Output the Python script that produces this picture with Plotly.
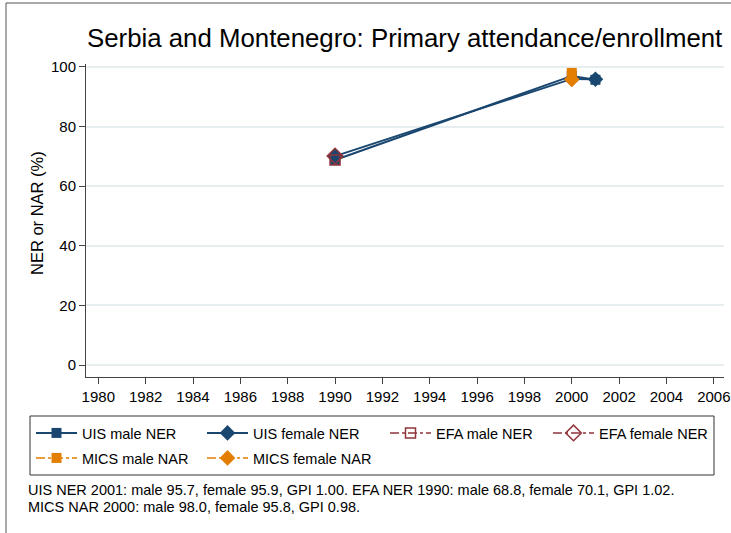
import plotly.graph_objects as go

# ---- data ----
years_uis = [1990, 2000, 2001]
uis_male = [68.8, 97.0, 95.7]
uis_female = [70.1, 96.0, 95.9]
years_efa = [1990]
efa_male = [68.8]
efa_female = [70.1]
years_mics = [2000]
mics_male = [98.0]
mics_female = [95.8]
x_ticks = list(range(1980, 2007, 2))
y_ticks = [0, 20, 40, 60, 80, 100]
title = "Serbia and Montenegro: Primary attendance/enrollment"
ytitle = "NER or NAR (%)"
note1 = "UIS NER 2001: male 95.7, female 95.9, GPI 1.00. EFA NER 1990: male 68.8, female 70.1, GPI 1.02."
note2 = "MICS NAR 2000: male 98.0, female 95.8, GPI 0.98."

NAVY = "#1a476f"
MAROON = "#90353b"
ORANGE = "#e37e00"
FONT = "Liberation Sans, Arial, sans-serif"

W, H = 731, 533
L, R, T, B = 86, 724, 64, 377


def px(x):
    return (x - L) / (R - L)


def py(y):
    return (B - y) / (B - T)


fig = go.Figure()
fig.add_trace(go.Scatter(x=years_uis, y=uis_male, name="UIS male NER", mode="lines+markers",
                         line=dict(color=NAVY, width=2), marker=dict(symbol="square", size=10, color=NAVY),
                         legend="legend"))
fig.add_trace(go.Scatter(x=years_uis, y=uis_female, name="UIS female NER", mode="lines+markers",
                         line=dict(color=NAVY, width=2), marker=dict(symbol="diamond", size=12, color=NAVY),
                         legend="legend2"))
fig.add_trace(go.Scatter(x=years_efa, y=efa_male, name="EFA male NER", mode="lines+markers",
                         line=dict(color=MAROON, width=1.5, dash="dashdot"),
                         marker=dict(symbol="square-open", size=10, color=MAROON, line=dict(width=1.5)),
                         legend="legend3"))
fig.add_trace(go.Scatter(x=years_efa, y=efa_female, name="EFA female NER", mode="lines+markers",
                         line=dict(color=MAROON, width=1.5, dash="dashdot"),
                         marker=dict(symbol="diamond-open", size=12, color=MAROON, line=dict(width=1.5)),
                         legend="legend4"))
fig.add_trace(go.Scatter(x=years_mics, y=mics_male, name="MICS male NAR", mode="lines+markers",
                         line=dict(color=ORANGE, width=1.5, dash="dashdot"),
                         marker=dict(symbol="square", size=10, color=ORANGE),
                         legend="legend5"))
fig.add_trace(go.Scatter(x=years_mics, y=mics_female, name="MICS female NAR", mode="lines+markers",
                         line=dict(color=ORANGE, width=1.5, dash="dashdot"),
                         marker=dict(symbol="diamond", size=12, color=ORANGE),
                         legend="legend6"))

leg_common = dict(orientation="v", bgcolor="rgba(0,0,0,0)", borderwidth=0,
                  font=dict(family=FONT, size=14.5, color="black"),
                  xanchor="left", yanchor="middle", itemwidth=41,
                  xref="paper", yref="paper")
row1, row2 = 433, 458
col = [31, 202, 385, 548]

fig.update_layout(
    width=W, height=H,
    margin=dict(l=L, r=W - R, t=T, b=H - B, autoexpand=False),
    paper_bgcolor="white", plot_bgcolor="white",
    font=dict(family=FONT, size=15, color="black"),
    showlegend=True,
    legend=dict(leg_common, x=px(col[0]), y=py(row1)),
    legend2=dict(leg_common, x=px(col[1]), y=py(row1)),
    legend3=dict(leg_common, x=px(col[2]), y=py(row1)),
    legend4=dict(leg_common, x=px(col[3]), y=py(row1)),
    legend5=dict(leg_common, x=px(col[0]), y=py(row2)),
    legend6=dict(leg_common, x=px(col[1]), y=py(row2)),
    xaxis=dict(range=[1979.48, 2006.43], tickvals=x_ticks, ticktext=[str(v) for v in x_ticks],
               showgrid=False, zeroline=False, showline=True, linecolor="#444", linewidth=1,
               ticks="outside", ticklen=6, tickcolor="#444", tickfont=dict(size=15), automargin=False),
    yaxis=dict(range=[-4.0, 101.0], tickvals=y_ticks, showgrid=True, gridcolor="#e6eef0", gridwidth=1.5,
               zeroline=False, showline=True, linecolor="#444", linewidth=1,
               ticks="outside", ticklen=6, tickcolor="#444", tickfont=dict(size=15), automargin=False),
    shapes=[
        dict(type="rect", xref="paper", yref="paper", x0=px(30), x1=px(714), y0=py(416), y1=py(475),
             line=dict(color="#333", width=1), fillcolor="rgba(0,0,0,0)"),
        dict(type="line", xref="paper", yref="paper", x0=px(6), x1=px(6), y0=py(3), y1=py(533),
             line=dict(color="#555", width=1)),
        dict(type="line", xref="paper", yref="paper", x0=px(6), x1=px(731), y0=py(3), y1=py(3),
             line=dict(color="#555", width=1)),
    ],
    annotations=[
        dict(text=title, xref="paper", yref="paper", x=px(404), y=py(38), xanchor="center", yanchor="middle",
             showarrow=False, font=dict(size=25.8, color="black")),
        dict(text=ytitle, xref="paper", yref="paper", x=px(37), y=py(213), xanchor="center", yanchor="middle",
             textangle=-90, showarrow=False, font=dict(size=16.5, color="black")),
        dict(text=note1, xref="paper", yref="paper", x=px(26), y=py(490), xanchor="left", yanchor="middle",
             showarrow=False, font=dict(size=14.5, color="black")),
        dict(text=note2, xref="paper", yref="paper", x=px(26), y=py(507), xanchor="left", yanchor="middle",
             showarrow=False, font=dict(size=14.5, color="black")),
    ],
)

fig.write_html("out.html", config={"displayModeBar": False},
               post_script="document.body.style.margin='0';document.body.style.overflow='hidden';")
